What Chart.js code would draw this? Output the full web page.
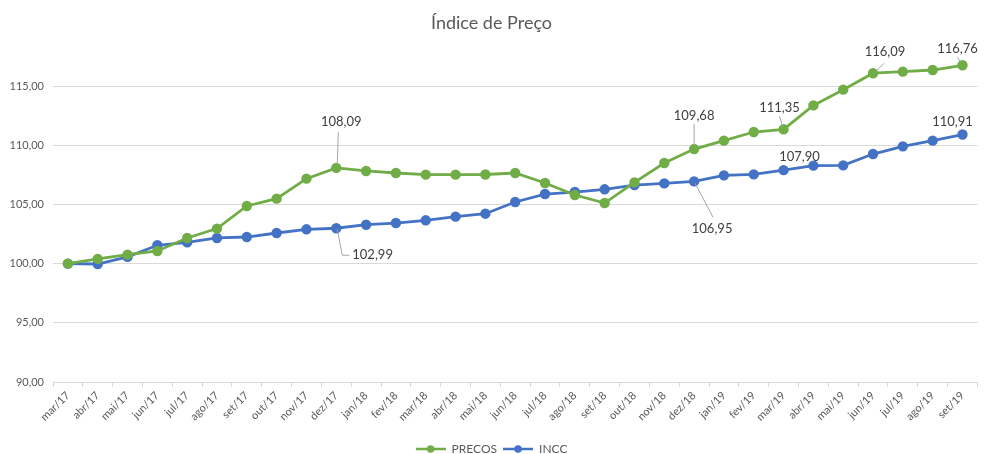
<!DOCTYPE html>
<html>
<head>
<meta charset="utf-8">
<script src="https://cdn.jsdelivr.net/npm/chart.js@4/dist/chart.umd.min.js"></script>
<style>
  body { margin: 0; background: #fff; }
</style>
</head>
<body>
<canvas id="chart" width="984" height="454"></canvas>
<script>
"use strict";

const meses = ["mar/17", "abr/17", "mai/17", "jun/17", "jul/17", "ago/17", "set/17", "out/17", "nov/17", "dez/17",
  "jan/18", "fev/18", "mar/18", "abr/18", "mai/18", "jun/18", "jul/18", "ago/18", "set/18", "out/18", "nov/18", "dez/18",
  "jan/19", "fev/19", "mar/19", "abr/19", "mai/19", "jun/19", "jul/19", "ago/19", "set/19"];

const precos = [100.00, 100.40, 100.76, 101.07, 102.17, 102.96, 104.87, 105.49, 107.18, 108.09,
  107.83, 107.66, 107.52, 107.52, 107.53, 107.66, 106.81, 105.80, 105.12, 106.87, 108.50, 109.68,
  110.39, 111.12, 111.35, 113.37, 114.70, 116.09, 116.22, 116.36, 116.76];

const incc = [100.00, 99.97, 100.57, 101.55, 101.80, 102.17, 102.25, 102.59, 102.90, 102.99,
  103.29, 103.43, 103.66, 103.97, 104.22, 105.21, 105.88, 106.05, 106.28, 106.64, 106.78, 106.95,
  107.46, 107.54, 107.90, 108.28, 108.30, 109.26, 109.91, 110.39, 110.91];

const ticksY = [90, 95, 100, 105, 110, 115];

// which points get a value label (index in meses)
const rotulosPrecos = [9, 21, 24, 27, 30];
const rotulosIncc = [9, 21, 24, 30];

const verde = "#70AD47";
const azul = "#4472C4";

// label placement relative to the point: text offset + optional leader line
const posRotulo = {
  "0-9": { dx: 5, dy: -46, linha: [[1, -4], [2, -36]] },
  "0-21": { dx: 0, dy: -33, linha: [[0, -4], [0, -25]] },
  "0-24": { dx: -4, dy: -21, linha: [[-1, -3], [-4, -13]] },
  "0-27": { dx: 12, dy: -21, linha: [[3, -2], [11, -10]] },
  "0-30": { dx: -5, dy: -16, linha: [[-2, -3], [-5, -8]] },
  "1-9": { dx: 37, dy: 27, linha: [[1, 1], [6, 27], [13, 27]], alinha: "left", dxTexto: 16 },
  "1-21": { dx: 18, dy: 47, linha: [[1, 2], [19, 36]] },
  "1-24": { dx: 16, dy: -13 },
  "1-30": { dx: -10, dy: -13 }
};

function fmt(v) {
  return v.toFixed(2).replace(".", ",");
}

function iconeLegenda(cor) {
  const c = document.createElement("canvas");
  c.width = 30;
  c.height = 10;
  const ctx = c.getContext("2d");
  ctx.strokeStyle = cor;
  ctx.lineWidth = 2.5;
  ctx.beginPath();
  ctx.moveTo(0, 5);
  ctx.lineTo(30, 5);
  ctx.stroke();
  ctx.fillStyle = cor;
  ctx.beginPath();
  ctx.arc(15, 5, 3.8, 0, Math.PI * 2);
  ctx.fill();
  return c;
}

const icones = [iconeLegenda(verde), iconeLegenda(azul)];

const rotulosPlugin = {
  id: "rotulos",
  afterDatasetsDraw(chart) {
    const ctx = chart.ctx;
    const listas = [rotulosPrecos, rotulosIncc];
    ctx.save();
    ctx.font = "13px Lato";
    ctx.fillStyle = "#404040";
    ctx.textBaseline = "middle";
    listas.forEach((lista, ds) => {
      const meta = chart.getDatasetMeta(ds);
      lista.forEach(i => {
        const p = meta.data[i];
        const pos = posRotulo[ds + "-" + i];
        if (pos.linha) {
          ctx.strokeStyle = "#A6A6A6";
          ctx.lineWidth = 1;
          ctx.beginPath();
          pos.linha.forEach((q, k) => {
            if (k === 0) ctx.moveTo(p.x + q[0], p.y + q[1]);
            else ctx.lineTo(p.x + q[0], p.y + q[1]);
          });
          ctx.stroke();
        }
        const texto = fmt(chart.data.datasets[ds].data[i]);
        if (pos.alinha === "left") {
          ctx.textAlign = "left";
          ctx.fillText(texto, p.x + pos.dxTexto, p.y + pos.dy);
        } else {
          ctx.textAlign = "center";
          ctx.fillText(texto, p.x + pos.dx, p.y + pos.dy);
        }
      });
    });
    ctx.restore();
  }
};

Chart.defaults.font.family = "Lato";
Chart.defaults.color = "#595959";

const config = {
  type: "line",
  data: {
    labels: meses,
    datasets: [
      {
        label: "PRECOS",
        data: precos,
        borderColor: verde,
        backgroundColor: verde,
        borderWidth: 2.8,
        pointRadius: 3.8,
        pointHoverRadius: 3.8,
        tension: 0
      },
      {
        label: "INCC",
        data: incc,
        borderColor: azul,
        backgroundColor: azul,
        borderWidth: 2.8,
        pointRadius: 3.8,
        pointHoverRadius: 3.8,
        tension: 0
      }
    ]
  },
  options: {
    responsive: false,
    animation: false,
    layout: { padding: { left: 0, right: 1, top: 0, bottom: -11 } },
    plugins: {
      title: {
        display: true,
        text: "Índice de Preço",
        font: { size: 18, weight: "normal" },
        color: "#595959",
        padding: { top: 12, bottom: 17 }
      },
      legend: {
        position: "bottom",
        labels: {
          usePointStyle: true,
          pointStyleWidth: 30,
          boxHeight: 10,
          padding: 6,
          font: { size: 12 },
          color: "#595959",
          generateLabels(chart) {
            const itens = Chart.defaults.plugins.legend.labels.generateLabels(chart);
            itens.forEach((it, i) => { it.pointStyle = icones[i]; });
            return itens;
          }
        }
      },
      tooltip: { enabled: false }
    },
    scales: {
      x: {
        offset: true,
        grid: {
          display: true,
          drawOnChartArea: false,
          drawTicks: true,
          tickLength: 5,
          color: "#D9D9D9",
          offset: true
        },
        border: { color: "#D9D9D9" },
        ticks: {
          minRotation: 45,
          maxRotation: 45,
          autoSkip: false,
          font: { size: 11 },
          color: "#595959",
          padding: 2
        },
        afterFit(scale) { scale.height = 55; }
      },
      y: {
        min: 90,
        max: 118,
        grid: { color: "#D9D9D9", drawTicks: false },
        border: { display: false },
        afterBuildTicks(scale) {
          scale.ticks = ticksY.map(v => ({ value: v }));
        },
        ticks: {
          font: { size: 11 },
          color: "#595959",
          padding: 9,
          callback: v => fmt(v)
        },
        afterFit(scale) { scale.width = 53; }
      }
    }
  },
  plugins: [rotulosPlugin]
};

new Chart(document.getElementById("chart"), config);
</script>
</body>
</html>
